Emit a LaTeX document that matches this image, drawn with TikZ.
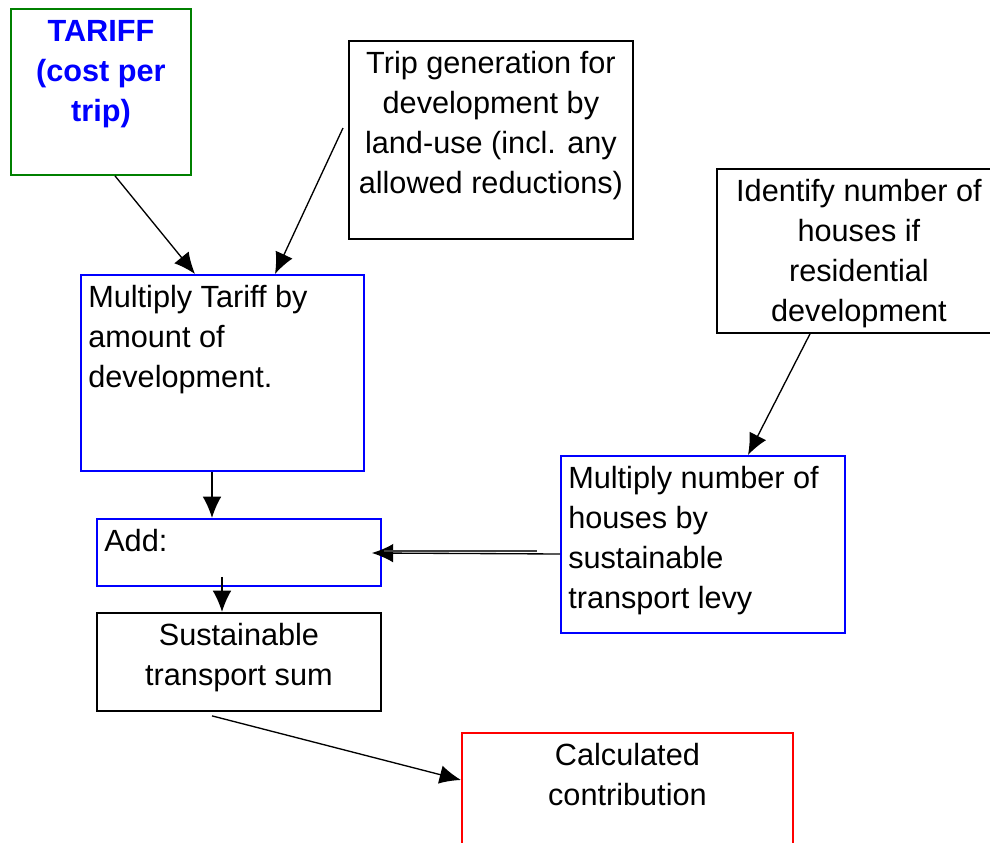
\documentclass[tikz,border=0pt]{standalone}
\usepackage{fontspec}
\setmainfont{Liberation Sans}
\usetikzlibrary{arrows.meta,calc}
\definecolor{boxgreen}{RGB}{0,128,0}

\begin{document}
\begin{tikzpicture}[x=0.75pt,y=-0.75pt,
    box/.style={draw,line width=1.4pt,anchor=north west,inner sep=0pt,minimum width=213pt},
    txt/.style={inner sep=0pt,font=\fontsize{23}{30}\selectfont},
    ctxt/.style={txt,anchor=north,align=center},
    ltxt/.style={txt,anchor=north west,align=left},
    arr/.style={-{Latex[length=16pt,width=14pt]},line width=1pt}]
        \clip (0,0) rectangle (990,843);

        % boxes
        \node[box,draw=boxgreen,minimum width=135pt,minimum height=124.5pt] (tariff) at (10,8) {};
        \node[box,minimum height=148.5pt] (trip) at (348,40) {};
        \node[box,minimum height=123pt] (ident) at (716,168) {};
        \node[box,draw=blue,minimum width=212.25pt,minimum height=147pt] (multT) at (80,274) {};
        \node[box,draw=blue,minimum height=50.25pt] (add) at (96,518) {};
        \node[box,minimum height=73.5pt] (sum) at (96,612) {};
        \node[box,draw=blue,minimum height=132.75pt] (multH) at (560,455) {};
        \node[box,draw=red,minimum width=248.25pt,minimum height=120pt] (calc) at (461,732) {};

        % texts
        \node[ctxt,text=blue,font=\fontsize{23}{30}\selectfont\bfseries] (tariffT) at ([yshift=-4pt]tariff.north) {\strut TARIFF\\(cost per\\trip)};
        \node[ctxt] (tripT) at ([yshift=-4pt]trip.north) {\strut Trip generation for\\development by\\land-use (incl. any\\allowed reductions)};
        \node[ctxt] (identT) at ([yshift=-4pt]ident.north) {\strut Identify number of\\houses if\\residential\\development};
        \node[ltxt] (multTT) at ([xshift=6pt,yshift=-4pt]multT.north west) {\strut Multiply Tariff by\\amount of\\development.};
        \node[ltxt] (addT) at ([xshift=6pt,yshift=-4pt]add.north west) {\strut Add:};
        \node[ctxt] (sumT) at ([yshift=-4pt]sum.north) {\strut Sustainable\\transport sum};
        \node[ltxt] (multHT) at ([xshift=6pt,yshift=-4pt]multH.north west) {\strut Multiply number of\\houses by\\sustainable\\transport levy};
        \node[ctxt] (calcT) at ([yshift=-4pt]calc.north) {\strut Calculated\\contribution};

        % connectors
        \draw[arr] ($(tariff.south west)+(105,0)$) -- ($(multT.north west)+(115,0)$);
        \draw[arr] ($(trip.north west)+(-5,88)$) -- ($(multT.north west)+(195,0)$);
        \draw[arr] ($(ident.south west)+(94,0)$) -- ($(multH.north west)+(188,0)$);
        \draw[arr] ($(multT.south west)+(132,0)$) -- ($(add.north west)+(116,0)$);
        \draw[arr] ($(add.south west)+(126,-10)$) -- ($(sum.north west)+(126,0)$);
        \draw[arr] ($(multH.north west)+(0,99)$) -- ($(add.north east)+(-10,35)$);
        \draw[line width=1pt,black!75] ($(multH.north west)+(-23,96)$) -- ($(add.north east)+(2,33)$);
        \draw[arr] ($(sum.south west)+(116,4)$) -- ($(calc.north west)+(0,48)$);
\end{tikzpicture}
\end{document}
